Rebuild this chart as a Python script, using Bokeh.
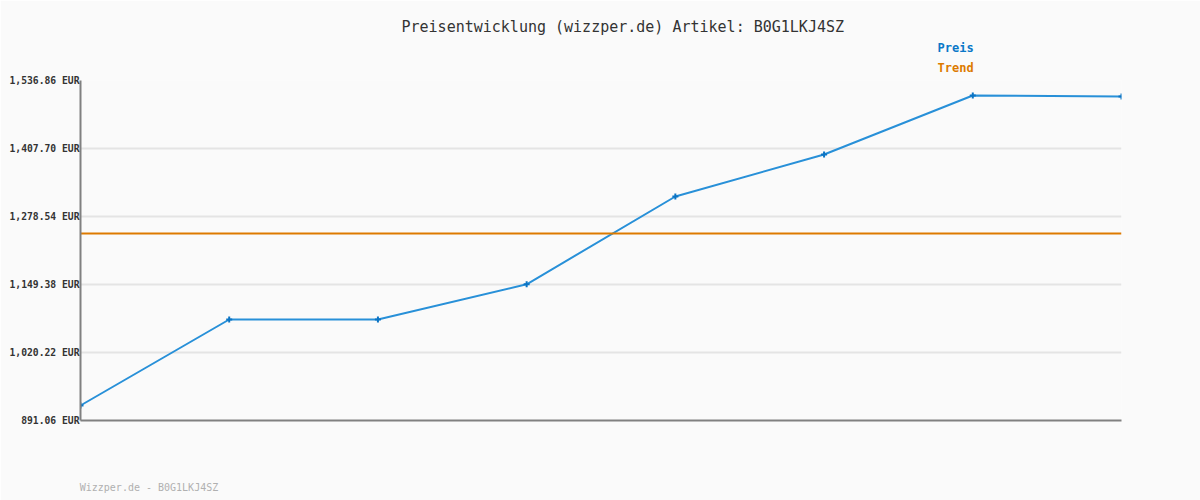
from bokeh.plotting import figure
from bokeh.models import Range1d, FixedTicker, Title
from bokeh.embed import file_html
from bokeh.resources import INLINE

idx = [0, 1, 2, 3, 4, 5, 6, 7]
preis = [919.55, 1082.90, 1082.90, 1149.80, 1316.53, 1396.31, 1508.37, 1506.47]
trend_value = 1246.25
tick_values = [891.06, 1020.22, 1149.38, 1278.54, 1407.70, 1536.86]
tick_labels = ["891.06 EUR", "1,020.22 EUR", "1,149.38 EUR", "1,278.54 EUR", "1,407.70 EUR", "1,536.86 EUR"]
title_text = "Preisentwicklung (wizzper.de) Artikel: B0G1LKJ4SZ"
footer_text = "Wizzper.de - B0G1LKJ4SZ"

MONO = "DejaVu Sans Mono"
W, H = 1200, 500
L, R, T, B = 80, 79, 80, 80
fw = W - L - R

p = figure(width=W, height=H, output_backend="svg", toolbar_location=None,
           x_range=Range1d(idx[0], idx[-1]), y_range=Range1d(tick_values[0], tick_values[-1]),
           min_border_left=L, min_border_right=R, min_border_top=T, min_border_bottom=B)
p.background_fill_color = "#fafafa"
p.border_fill_color = "#fafafa"
p.outline_line_color = None

# footer is drawn as the single (centred) x-axis label; its centre is shifted by
# half of its rendered width (~137px) so that it starts at the frame's left edge
footer_pos = idx[0] + 68.5 / fw * (idx[-1] - idx[0])
p.xaxis.ticker = FixedTicker(ticks=[footer_pos])
p.xaxis.major_label_overrides = {footer_pos: footer_text}
p.xaxis.major_label_text_font = MONO
p.xaxis.major_label_text_font_size = "10px"
p.xaxis.major_label_text_color = "#b0b0b0"
p.xaxis.major_label_standoff = 61
p.xaxis.major_tick_line_color = None
p.xaxis.minor_tick_line_color = None
p.xaxis.major_tick_out = 0
p.xaxis.major_tick_in = 0
p.xaxis.axis_line_color = "#808080"
p.xaxis.axis_line_width = 2
p.xgrid.visible = False

p.yaxis.ticker = FixedTicker(ticks=tick_values)
p.yaxis.major_label_overrides = {v: l for v, l in zip(tick_values, tick_labels)}
p.yaxis.major_label_text_font = MONO
p.yaxis.major_label_text_font_style = "bold"
p.yaxis.major_label_text_font_size = "9.7px"
p.yaxis.major_label_text_color = "#333333"
p.yaxis.major_label_standoff = 1
p.yaxis.major_tick_line_color = None
p.yaxis.minor_tick_line_color = None
p.yaxis.major_tick_out = 0
p.yaxis.major_tick_in = 0
p.yaxis.axis_line_color = "#808080"
p.yaxis.axis_line_width = 2
p.ygrid.grid_line_color = "#e4e4e4"
p.ygrid.grid_line_width = 2

p.line(idx, preis, line_color="#2890d8", line_width=2)
p.scatter(idx, preis, marker="cross", size=6, line_color="#0b74c4", line_width=2)
p.line([idx[0], idx[-1]], [trend_value, trend_value], line_color="#dd7a00", line_width=2)

# header texts stacked above the frame (first added = closest to the frame)
p.add_layout(Title(text="Trend", align="left", offset=857, standoff=8, vertical_align="top",
                   text_font=MONO, text_font_size="12px", text_font_style="bold",
                   text_color="#dd7a00"), "above")
p.add_layout(Title(text="Preis", align="left", offset=857, standoff=4,
                   text_font=MONO, text_font_size="12px", text_font_style="bold",
                   text_color="#0a78c8"), "above")
p.add_layout(Title(text=title_text, align="left", offset=321, standoff=1,
                   text_font=MONO, text_font_size="15px", text_font_style="normal",
                   text_color="#333333"), "above")

open("out.html", "w").write(file_html(p, INLINE))
